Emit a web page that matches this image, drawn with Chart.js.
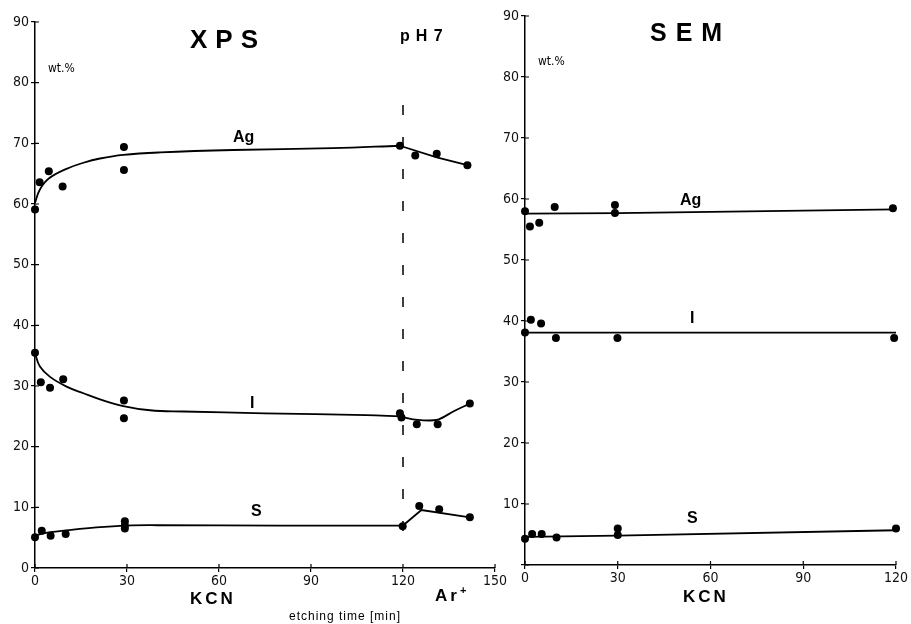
<!DOCTYPE html>
<html lang="en">
<head>
<meta charset="UTF-8">
<title>XPS / SEM wt.%</title>
<script src="https://cdn.jsdelivr.net/npm/chart.js"></script>
<style>
  body { margin: 0; background: #fff; }
  #wrap { position: relative; width: 911px; height: 624px; overflow: hidden; font-family: Arial, "Liberation Sans", sans-serif; color: #000; }
  canvas { position: absolute; top: 0; }
  .lbl { position: absolute; white-space: nowrap; line-height: 1; }
  .big { font-weight: bold; font-size: 26px; letter-spacing: 8px; }
  .el { font-weight: bold; font-size: 16px; }
  .kcn { font-weight: bold; font-size: 17px; letter-spacing: 3px; }
  .wt { font-family: "Liberation Sans Narrow", "DejaVu Sans Condensed", sans-serif; font-size: 12px; }
</style>
</head>
<body>
<div id="wrap">
  <canvas id="xpsChart" width="509" height="624" style="left:0"></canvas>
  <canvas id="semChart" width="422" height="624" style="left:488px"></canvas>

  <div class="lbl big" style="left:190px;top:26px">XPS</div>
  <div class="lbl el" style="left:400px;top:28px;letter-spacing:6px;word-spacing:-10px">pH 7</div>
  <div class="lbl wt" style="left:48px;top:62px">wt.%</div>
  <div class="lbl el" style="left:233px;top:129px">Ag</div>
  <div class="lbl el" style="left:250px;top:395px">I</div>
  <div class="lbl el" style="left:251px;top:503px">S</div>
  <div class="lbl kcn" style="left:190px;top:590px">KCN</div>
  <div class="lbl kcn" style="left:435px;top:585px">Ar<sup style="font-size:11px;vertical-align:7px;letter-spacing:0">+</sup></div>
  <div class="lbl" style="left:289px;top:610px;font-size:12px;letter-spacing:1px">etching time [min]</div>

  <div class="lbl big" style="left:650px;top:20px;font-size:25px;letter-spacing:9px">SEM</div>
  <div class="lbl wt" style="left:538px;top:55px">wt.%</div>
  <div class="lbl el" style="left:680px;top:192px">Ag</div>
  <div class="lbl el" style="left:690px;top:310px">I</div>
  <div class="lbl el" style="left:687px;top:510px">S</div>
  <div class="lbl kcn" style="left:683px;top:588px">KCN</div>
</div>
<script>
    // ---- XPS (left) : measured points ----
    const xpsAgTime = [0, 1.5, 4.5, 9, 29, 29, 119, 124, 131, 141];
    const xpsAgWt   = [59.1, 63.6, 65.4, 62.9, 69.4, 65.6, 69.6, 68.0, 68.3, 66.4];
    const xpsITime  = [0, 1.9, 4.9, 9.2, 29, 29, 119, 119.5, 124.5, 131.3, 141.8];
    const xpsIWt    = [35.5, 30.6, 29.7, 31.1, 27.6, 24.7, 25.5, 24.8, 23.7, 23.7, 27.1];
    const xpsSTime  = [0, 2.2, 5.1, 10, 29.3, 29.3, 29.3, 119.9, 125.3, 131.8, 141.8];
    const xpsSWt    = [5.05, 6.15, 5.3, 5.6, 7.7, 7.0, 6.5, 6.9, 10.2, 9.7, 8.35];

    // ---- XPS : hand-drawn trend lines (KCN part, then Ar+ part) ----
    const xpsAgFitTime = [0, 1.6, 4.5, 10.3, 15.8, 21.2, 28.8, 40.8, 64.6, 97, 119];
    const xpsAgFitWt   = [60.2, 62.4, 64.2, 65.8, 66.8, 67.5, 68.1, 68.5, 68.9, 69.2, 69.6];
    const xpsAgArTime  = [119, 131, 141];
    const xpsAgArWt    = [69.6, 67.7, 66.4];
    const xpsIFitTime  = [0, 1.6, 4.9, 10.3, 15.8, 21.2, 28.8, 37.5, 48.4, 75, 108, 119];
    const xpsIFitWt    = [35.4, 33.2, 31.5, 29.9, 28.8, 27.8, 26.7, 26.0, 25.8, 25.5, 25.2, 25.0];
    const xpsIArTime   = [119, 123.3, 131, 136.4, 141.8];
    const xpsIArWt     = [25.0, 24.5, 24.4, 25.8, 27.1];
    const xpsSFitTime  = [0, 5, 10, 20, 30, 40, 80, 120];
    const xpsSFitWt    = [5.4, 5.9, 6.2, 6.7, 7.0, 7.05, 7.0, 7.0];
    const xpsSArTime   = [120, 126, 141.8];
    const xpsSArWt     = [7.0, 9.55, 8.35];

    const phMarkerTime = 120;
    const phMarkerWt = [76.3, 2.7];

    // ---- SEM (right) ----
    const semAgTime = [0, 1.6, 4.6, 9.6, 29.1, 29.1, 119];
    const semAgWt   = [58.0, 55.5, 56.1, 58.7, 59.0, 57.7, 58.5];
    const semITime  = [0, 1.9, 5.2, 10, 29.9, 119.4];
    const semIWt    = [38.1, 40.2, 39.6, 37.2, 37.2, 37.2];
    const semSTime  = [0, 2.3, 5.4, 10.2, 30, 30, 120];
    const semSWt    = [4.3, 5.1, 5.1, 4.5, 6.0, 4.9, 6.0];

    const semAgFitTime = [0, 30, 120];
    const semAgFitWt   = [57.6, 57.7, 58.3];
    const semIFitTime  = [0, 120];
    const semIFitWt    = [38.1, 38.1];
    const semSFitTime  = [0, 30, 120];
    const semSFitWt    = [4.6, 4.8, 5.7];

    const xpsTicks = [0, 30, 60, 90, 120, 150];
    const semTicks = [0, 30, 60, 90, 120];

    const tickFont = { family: '"Liberation Sans Narrow", "DejaVu Sans Condensed", sans-serif', size: 14 };

    function pts(xs, ys) {
        return xs.map((x, i) => ({ x: x, y: ys[i] }));
    }

    function dots(xs, ys) {
        return {
            data: pts(xs, ys), showLine: false, clip: false,
            pointRadius: 4, pointBackgroundColor: '#000', pointBorderWidth: 0
        };
    }

    function curve(xs, ys, tension) {
        return {
            data: pts(xs, ys), showLine: true, clip: false, pointRadius: 0,
            borderColor: '#000', borderWidth: 1.8, tension: tension || 0
        };
    }

    // short tick marks on the inner side of the axes too, so they cross the axis line
    const innerTicks = {
        id: 'innerTicks',
        afterDraw(chart) {
            const ctx = chart.ctx, a = chart.chartArea;
            ctx.save();
            ctx.strokeStyle = '#000';
            ctx.lineWidth = 1.2;
            ctx.beginPath();
            chart.scales.x.ticks.forEach(t => {
                const px = chart.scales.x.getPixelForValue(t.value);
                ctx.moveTo(px, a.bottom);
                ctx.lineTo(px, a.bottom - 4);
            });
            chart.scales.y.ticks.forEach(t => {
                const py = chart.scales.y.getPixelForValue(t.value);
                ctx.moveTo(a.left, py);
                ctx.lineTo(a.left + 4, py);
            });
            ctx.stroke();
            ctx.restore();
        }
    };

    function makeOptions(xmax, tickList, axisW, axisH, padTop, padRight, showZeroY) {
        return {
            responsive: false,
            devicePixelRatio: 1,
            animation: false,
            layout: { padding: { top: padTop, right: padRight, left: 0, bottom: 0 } },
            plugins: { legend: { display: false }, tooltip: { enabled: false } },
            scales: {
                x: {
                    type: 'linear', min: 0, max: xmax,
                    afterFit: s => { s.height = axisH; },
                    afterBuildTicks: s => { s.ticks = tickList.map(v => ({ value: v })); },
                    border: { color: '#000', width: 1.5 },
                    grid: { drawOnChartArea: false, color: '#000', tickLength: 4, lineWidth: 1.2 },
                    ticks: { color: '#111', font: tickFont, padding: 1, maxRotation: 0 }
                },
                y: {
                    min: 0, max: 90,
                    afterFit: s => { s.width = axisW; },
                    border: { color: '#000', width: 1.5 },
                    grid: { drawOnChartArea: false, color: '#000', tickLength: 4, lineWidth: 1.2 },
                    ticks: {
                        color: '#111', font: tickFont, padding: 2, stepSize: 10,
                        callback: v => (v === 0 && !showZeroY) ? '' : v
                    }
                }
            }
        };
    }

    new Chart(document.getElementById('xpsChart').getContext('2d'), {
        type: 'scatter',
        data: {
            datasets: [
                curve(xpsAgFitTime, xpsAgFitWt, 0.4),
                curve(xpsAgArTime, xpsAgArWt, 0),
                curve(xpsIFitTime, xpsIFitWt, 0.4),
                curve(xpsIArTime, xpsIArWt, 0.3),
                curve(xpsSFitTime, xpsSFitWt, 0.4),
                curve(xpsSArTime, xpsSArWt, 0),
                Object.assign(curve([phMarkerTime, phMarkerTime], phMarkerWt, 0),
                    { borderWidth: 1.5, borderDash: [10, 22] }),
                dots(xpsAgTime, xpsAgWt),
                dots(xpsITime, xpsIWt),
                dots(xpsSTime, xpsSWt)
            ]
        },
        options: makeOptions(150, xpsTicks, 35, 56, 22, 14, true),
        plugins: [innerTicks]
    });

    new Chart(document.getElementById('semChart').getContext('2d'), {
        type: 'scatter',
        data: {
            datasets: [
                curve(semAgFitTime, semAgFitWt, 0),
                curve(semIFitTime, semIFitWt, 0),
                curve(semSFitTime, semSFitWt, 0),
                dots(semAgTime, semAgWt),
                dots(semITime, semIWt),
                dots(semSTime, semSWt)
            ]
        },
        options: makeOptions(120, semTicks, 37, 59, 16, 14, false),
        plugins: [innerTicks]
    });
</script>
</body>
</html>
